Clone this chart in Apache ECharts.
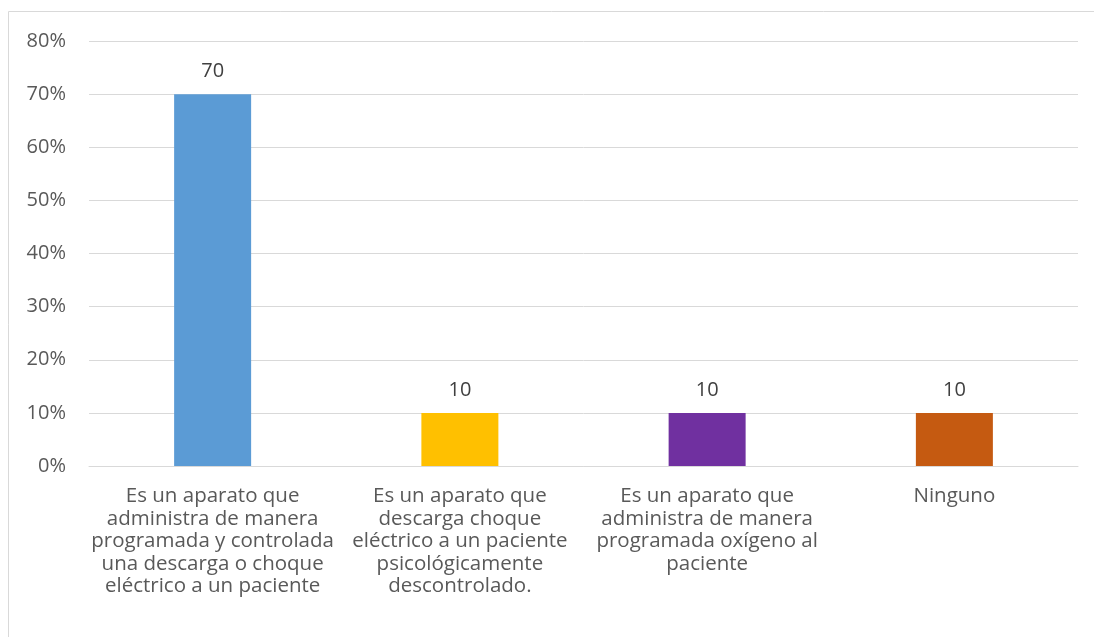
<!DOCTYPE html>
<html lang="es">
<head>
  <meta charset="UTF-8">
  <title>Grafico</title>
  <script src="https://cdn.jsdelivr.net/npm/echarts@6/dist/echarts.min.js"></script>
  <style>
    html, body { margin: 0; padding: 0; background: #fff; }
  </style>
</head>
<body>
<div id="main" style="width: 1094px; height: 637px"></div>
<script>
  var categories = [
    'Es un aparato que\nadministra de manera\nprogramada y controlada\nuna descarga o choque\neléctrico a un paciente',
    'Es un aparato que\ndescarga choque\neléctrico a un paciente\npsicológicamente\ndescontrolado.',
    'Es un aparato que\nadministra de manera\nprogramada oxígeno al\npaciente',
    'Ninguno'
  ];
  var values = [70, 10, 10, 10];
  var barColors = ['#5B9BD5', '#FFC000', '#7030A0', '#C55A11'];

  var myChart = echarts.init(document.getElementById('main'));
  var font = 'Open Sans, Noto Sans, sans-serif';

  var option = {
    animation: false,
    graphic: [{
      type: 'rect',
      shape: { x: 8.5, y: 11.5, width: 1200, height: 700 },
      style: { fill: 'none', stroke: '#d9d9d9', lineWidth: 1 },
      silent: true
    }],
    grid: { left: 89, right: 16, top: 41, bottom: 171, containLabel: false },
    xAxis: {
      type: 'category',
      data: categories,
      axisLine: { show: true, lineStyle: { color: '#d9d9d9', width: 1 } },
      axisTick: { show: false },
      axisLabel: {
        interval: 0,
        color: '#595959',
        fontFamily: font,
        fontSize: 20.5,
        lineHeight: 22.5,
        margin: 19
      }
    },
    yAxis: {
      type: 'value',
      min: 0,
      max: 80,
      interval: 10,
      axisLine: { show: false },
      axisTick: { show: false },
      splitLine: { lineStyle: { color: '#d9d9d9', width: 1 } },
      axisLabel: {
        formatter: '{value}%',
        color: '#595959',
        fontFamily: font,
        fontSize: 20,
        margin: 23
      }
    },
    series: [{
      type: 'bar',
      barWidth: 77,
      data: values.map(function (v, i) {
        return { value: v, itemStyle: { color: barColors[i] } };
      }),
      label: {
        show: true,
        position: 'top',
        distance: 13,
        color: '#404040',
        fontFamily: font,
        fontSize: 20
      }
    }]
  };
  myChart.setOption(option);
</script>
</body>
</html>
